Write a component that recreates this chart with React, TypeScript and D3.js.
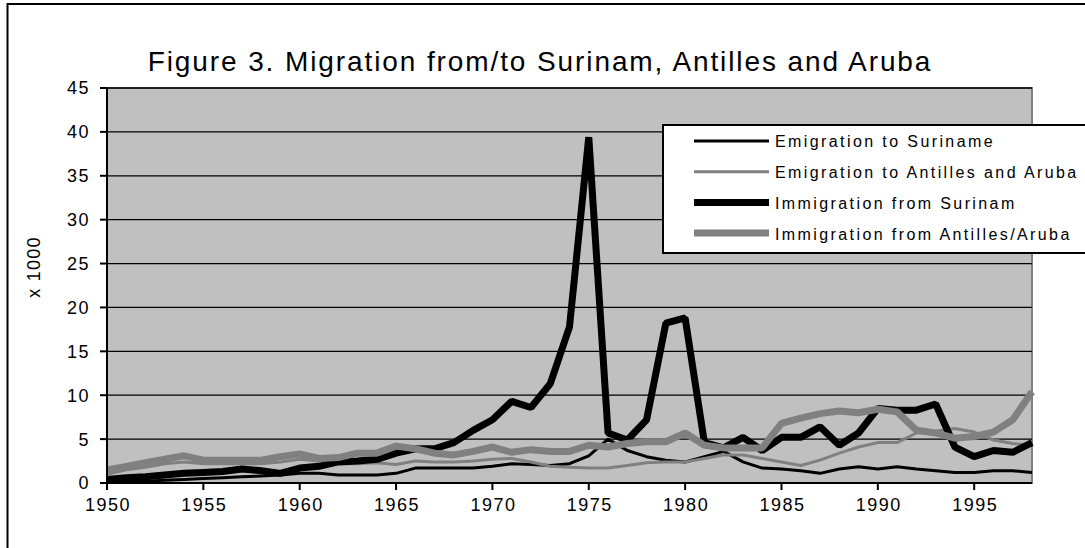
import * as d3 from 'd3'

const years = [
  1950, 1951, 1952, 1953, 1954, 1955, 1956, 1957, 1958, 1959,
  1960, 1961, 1962, 1963, 1964, 1965, 1966, 1967, 1968, 1969,
  1970, 1971, 1972, 1973, 1974, 1975, 1976, 1977, 1978, 1979,
  1980, 1981, 1982, 1983, 1984, 1985, 1986, 1987, 1988, 1989,
  1990, 1991, 1992, 1993, 1994, 1995, 1996, 1997, 1998,
]

// values x 1000
const emigrationSuriname = [
  0.1, 0.2, 0.2, 0.3, 0.4, 0.5, 0.6, 0.7, 0.8, 0.9,
  1.1, 1.1, 0.9, 0.9, 0.9, 1.1, 1.7, 1.7, 1.7, 1.7,
  1.9, 2.2, 2.1, 2.0, 2.2, 3.1, 5.0, 3.7, 3.0, 2.6,
  2.4, 3.0, 3.6, 2.4, 1.7, 1.6, 1.4, 1.1, 1.6, 1.85,
  1.6, 1.85, 1.6, 1.4, 1.2, 1.2, 1.4, 1.4, 1.2,
]
const emigrationAntilles = [
  1.0, 1.5, 1.8, 2.2, 2.4, 2.2, 2.2, 2.2, 2.2, 2.4,
  2.7, 2.5, 2.2, 2.2, 2.3, 2.1, 2.5, 2.4, 2.4, 2.5,
  2.7, 2.8, 2.4, 1.9, 1.8, 1.7, 1.7, 2.0, 2.3, 2.4,
  2.4, 2.8, 3.2, 3.2, 2.8, 2.4, 2.0, 2.6, 3.4, 4.1,
  4.6, 4.6, 5.7, 5.9, 6.2, 5.8, 4.9, 4.5, 4.3,
]
const immigrationSurinam = [
  0.4, 0.6, 0.7, 0.9, 1.1, 1.2, 1.3, 1.6, 1.4, 1.1,
  1.7, 1.9, 2.4, 2.5, 2.7, 3.4, 3.9, 3.9, 4.6, 6.0,
  7.2, 9.3, 8.6, 11.3, 17.8, 39.4, 5.7, 4.9, 7.2, 18.2,
  18.8, 4.6, 4.0, 5.2, 3.7, 5.2, 5.2, 6.4, 4.3, 5.7,
  8.5, 8.3, 8.3, 9.0, 4.1, 3.0, 3.7, 3.5, 4.6,
]
const immigrationAntilles = [
  1.5, 1.9, 2.3, 2.7, 3.1, 2.6, 2.6, 2.6, 2.6, 3.0,
  3.3, 2.8, 2.9, 3.4, 3.4, 4.2, 3.9, 3.4, 3.2, 3.6,
  4.1, 3.5, 3.8, 3.6, 3.6, 4.3, 4.1, 4.5, 4.7, 4.7,
  5.7, 4.3, 4.0, 4.0, 4.0, 6.8, 7.4, 7.9, 8.2, 8.0,
  8.4, 8.1, 6.0, 5.7, 5.1, 5.3, 5.8, 7.2, 10.4,
]

const seriesNames = [
  'Emigration to Suriname',
  'Emigration to Antilles and Aruba',
  'Immigration from Surinam',
  'Immigration from Antilles/Aruba',
]
const yTicks = [0, 5, 10, 15, 20, 25, 30, 35, 40, 45]
const xTicks = [1950, 1955, 1960, 1965, 1970, 1975, 1980, 1985, 1990, 1995]

const WIDTH = 1085
const HEIGHT = 548
const FONT = 'Arial, "Liberation Sans", sans-serif'
const plot = { left: 107, right: 1032, top: 88, bottom: 483 }

const styles = [
  { color: '#000000', width: 3 },
  { color: '#808080', width: 3 },
  { color: '#000000', width: 7 },
  { color: '#808080', width: 7 },
]

export default function App() {
  const x = d3.scaleLinear().domain([1950, 1998]).range([plot.left, plot.right])
  const y = d3.scaleLinear().domain([0, 45]).range([plot.bottom, plot.top])

  const line = d3
    .line<number>()
    .x((_, i) => x(years[i]))
    .y((d) => y(d))

  const series = [emigrationSuriname, emigrationAntilles, immigrationSurinam, immigrationAntilles]

  const legend = { x: 663, y: 125, w: 460, h: 128, rowGap: 30.7 }

  return (
    <svg
      width={WIDTH}
      height={HEIGHT}
      style={{ position: 'fixed', left: 0, top: 0, background: '#fff' }}
      fontFamily={FONT}
    >
      {/* outer frame, runs past the right and bottom edges */}
      <rect x={7.5} y={4} width={1200} height={700} fill="#fff" stroke="#000" strokeWidth={2} />

      <text
        x={540}
        y={71}
        textAnchor="middle"
        fontSize={28}
        letterSpacing={1.9}
        fill="#000"
      >
        Figure 3. Migration from/to Surinam, Antilles and Aruba
      </text>

      {/* plot area */}
      <rect
        x={plot.left}
        y={plot.top}
        width={plot.right - plot.left}
        height={plot.bottom - plot.top}
        fill="#c0c0c0"
        stroke="#808080"
        strokeWidth={2}
      />

      {yTicks.slice(1).map((t) => (
        <line
          key={'g' + t}
          x1={plot.left}
          x2={plot.right}
          y1={y(t)}
          y2={y(t)}
          stroke="#000"
          strokeWidth={1.3}
        />
      ))}

      {series.map((vals, i) => (
        <path
          key={seriesNames[i]}
          d={line(vals) ?? ''}
          fill="none"
          stroke={styles[i].color}
          strokeWidth={styles[i].width}
          strokeLinejoin="bevel"
        />
      ))}

      {/* axes */}
      <line x1={plot.left} x2={plot.left} y1={plot.top} y2={plot.bottom} stroke="#000" strokeWidth={2} />
      <line x1={plot.left} x2={plot.right} y1={plot.bottom} y2={plot.bottom} stroke="#000" strokeWidth={2} />

      {yTicks.map((t) => (
        <g key={'y' + t}>
          <line x1={plot.left - 7} x2={plot.left} y1={y(t)} y2={y(t)} stroke="#000" strokeWidth={2} />
          <text
            x={90}
            y={y(t)}
            dy="0.36em"
            textAnchor="end"
            fontSize={18}
            letterSpacing={1.5}
          >
            {t}
          </text>
        </g>
      ))}

      {xTicks.map((t) => (
        <g key={'x' + t}>
          <line x1={x(t)} x2={x(t)} y1={plot.bottom} y2={plot.bottom + 7} stroke="#000" strokeWidth={2} />
          <text x={x(t) + 1} y={511} textAnchor="middle" fontSize={18} letterSpacing={1.5}>
            {t}
          </text>
        </g>
      ))}

      <text
        transform={`translate(40, 267) rotate(-90)`}
        textAnchor="middle"
        fontSize={18}
        letterSpacing={1.2}
      >
        x 1000
      </text>

      {/* legend */}
      <rect
        x={legend.x}
        y={legend.y}
        width={legend.w}
        height={legend.h}
        fill="#fff"
        stroke="#000"
        strokeWidth={2}
      />
      {seriesNames.map((name, i) => {
        const ry = legend.y + 16 + i * legend.rowGap
        return (
          <g key={'l' + name}>
            <line
              x1={694}
              x2={769}
              y1={ry}
              y2={ry}
              stroke={styles[i].color}
              strokeWidth={styles[i].width}
            />
            <text x={775} y={ry} dy="0.4em" fontSize={16} letterSpacing={2.4}>
              {name}
            </text>
          </g>
        )
      })}
    </svg>
  )
}
